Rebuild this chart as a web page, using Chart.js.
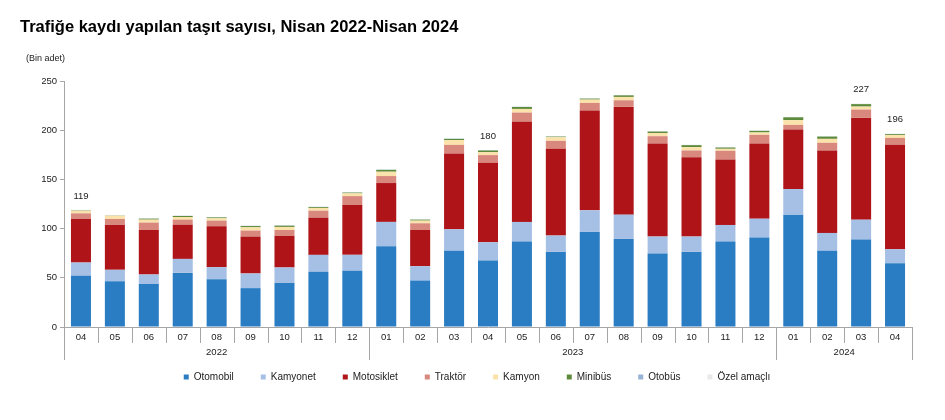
<!DOCTYPE html>
<html>
<head>
<meta charset="utf-8">
<script src="https://cdn.jsdelivr.net/npm/chart.js@4/dist/chart.umd.min.js"></script>
<style>
    body { margin: 0; background: #fff; }
    .wrap { position: relative; width: 945px; height: 420px; }
    .title { position: absolute; left: 20px; top: 17px; font: bold 16.5px "Liberation Sans", Arial, sans-serif; color: #000; }
    .unit { position: absolute; left: 26px; top: 53px; font: 9px "Liberation Sans", Arial, sans-serif; color: #222; }
    canvas { position: absolute; left: 0; top: 0; }
</style>
</head>
<body>
<div class="wrap">
    <canvas id="taşıtChart" width="945" height="420"></canvas>
    <div class="title">Trafiğe kaydı yapılan taşıt sayısı, Nisan 2022-Nisan 2024</div>
    <div class="unit">(Bin adet)</div>
</div>
<script>
const months = ['04', '05', '06', '07', '08', '09', '10', '11', '12',
    '01', '02', '03', '04', '05', '06', '07', '08', '09', '10', '11', '12',
    '01', '02', '03', '04'];
const years = ['2022', '2023', '2024'];
const yearStarts = [0, 9, 21, 25];
const yTicks = [0, 50, 100, 150, 200, 250];

const otomobil = [52.0, 46.6, 43.6, 55.0, 48.6, 39.5, 44.6, 56.1, 57.1, 82.1, 47.3, 77.4, 67.5, 86.8, 76.3, 96.6, 89.5, 74.6, 76.3, 86.8, 90.9, 114.2, 77.4, 88.8, 64.9];
const kamyonet = [13.5, 11.5, 9.8, 14.2, 12.2, 14.9, 15.9, 17.2, 16.2, 24.7, 14.5, 21.9, 18.6, 20.0, 16.6, 22.0, 24.7, 17.3, 15.6, 16.9, 19.2, 26.0, 18.2, 20.3, 14.1];
const motosiklet = [44.6, 45.9, 45.2, 34.8, 41.6, 37.5, 32.1, 37.8, 51.0, 39.5, 36.8, 77.1, 80.8, 101.7, 88.2, 101.4, 109.5, 94.6, 80.7, 66.6, 76.4, 60.5, 83.8, 103.4, 106.2];
const traktor = [5.4, 5.8, 7.5, 5.1, 5.7, 6.1, 6.0, 7.1, 8.7, 7.1, 6.8, 8.7, 7.8, 9.4, 8.1, 7.7, 6.7, 7.4, 6.8, 8.8, 8.8, 4.7, 7.8, 8.5, 7.0];
const kamyon = [2.7, 3.4, 3.0, 2.7, 2.4, 3.3, 3.1, 2.8, 2.8, 4.4, 2.7, 4.8, 3.0, 3.7, 3.7, 3.4, 3.4, 3.1, 3.4, 2.0, 2.4, 4.8, 4.0, 3.0, 2.8];
const minibus = [0.4, 0.2, 1.0, 1.0, 0.9, 1.3, 1.3, 0.9, 0.8, 1.9, 1.0, 1.3, 1.7, 2.0, 0.6, 1.0, 1.6, 1.6, 2.0, 1.3, 1.6, 2.9, 2.3, 2.5, 1.0];
const otobus = [0.2, 0.2, 0.2, 0.2, 0.2, 0.2, 0.2, 0.2, 0.2, 0.2, 0.2, 0.2, 0.2, 0.2, 0.2, 0.2, 0.2, 0.2, 0.2, 0.2, 0.2, 0.2, 0.2, 0.2, 0.2];
const ozelAmacli = [0.2, 0.2, 0.2, 0.2, 0.2, 0.2, 0.2, 0.2, 0.2, 0.2, 0.2, 0.2, 0.2, 0.2, 0.2, 0.2, 0.2, 0.2, 0.2, 0.2, 0.2, 0.2, 0.2, 0.2, 0.2];
// toplam etiketleri (sadece bazı aylarda)
const totalLabels = ['119', '', '', '', '', '', '', '', '', '', '', '', '180', '', '', '', '', '', '', '', '', '', '', '227', '196'];

const font = "'Liberation Sans', Arial, sans-serif";

const axisExtras = {
    id: 'axisExtras',
    afterDraw(chart) {
        const ctx = chart.ctx;
        const x = chart.scales.x;
        const bottom = chart.chartArea.bottom;
        const half = (x.getPixelForValue(1) - x.getPixelForValue(0)) / 2;
        const edge = i => i < months.length ? x.getPixelForValue(i) - half : x.getPixelForValue(months.length - 1) + half;

        ctx.save();
        ctx.strokeStyle = '#a6a6a6';
        ctx.lineWidth = 1;
        for (let i = 0; i <= months.length; i++) {
            const px = Math.round(edge(i)) + 0.5;
            const len = yearStarts.includes(i) ? 33 : 16;
            ctx.beginPath();
            ctx.moveTo(px, bottom);
            ctx.lineTo(px, bottom + len);
            ctx.stroke();
        }
        ctx.fillStyle = '#222';
        ctx.font = "9.5px " + font;
        ctx.textAlign = 'center';
        ctx.textBaseline = 'middle';
        years.forEach((y, k) => {
            const mid = (edge(yearStarts[k]) + edge(yearStarts[k + 1])) / 2;
            ctx.fillText(y, mid, bottom + 25);
        });

        const top = chart.getDatasetMeta(chart.data.datasets.length - 1);
        totalLabels.forEach((t, i) => {
            if (!t) return;
            const bar = top.data[i];
            ctx.fillText(t, bar.x, bar.y - 14);
        });
        ctx.restore();
    }
};

function ds(label, data, color) {
    return {
        label: label,
        data: data,
        backgroundColor: color,
        borderWidth: 0,
        barPercentage: 0.59,
        categoryPercentage: 1
    };
}

new Chart(document.getElementById('taşıtChart'), {
    type: 'bar',
    data: {
        labels: months,
        datasets: [
            ds('Otomobil', otomobil, '#2a7dc3'),
            ds('Kamyonet', kamyonet, '#a6bfe4'),
            ds('Motosiklet', motosiklet, '#ae1418'),
            ds('Traktör', traktor, '#d9887d'),
            ds('Kamyon', kamyon, '#fbe2aa'),
            ds('Minibüs', minibus, '#5e8b3b'),
            ds('Otobüs', otobus, '#96b3d6'),
            ds('Özel amaçlı', ozelAmacli, '#e9e9e9')
        ]
    },
    options: {
        responsive: false,
        animation: false,
        layout: {
            padding: { top: 81, left: 42, right: 33, bottom: 28 }
        },
        plugins: {
            title: { display: false },
            tooltip: { enabled: false },
            legend: {
                position: 'bottom',
                labels: {
                    boxWidth: 5,
                    boxHeight: 5,
                    padding: 27,
                    color: '#222',
                    font: { family: font, size: 10 }
                }
            }
        },
        scales: {
            x: {
                stacked: true,
                afterFit: scale => { scale.height = 18; },
                grid: { display: false, drawTicks: false },
                border: { display: true, color: '#a6a6a6' },
                ticks: {
                    padding: 5,
                    maxRotation: 0,
                    autoSkip: false,
                    color: '#222',
                    font: { family: font, size: 9.5 }
                }
            },
            y: {
                stacked: true,
                min: 0,
                max: 250,
                afterFit: scale => { scale.width = 22; },
                afterBuildTicks: scale => { scale.ticks = yTicks.map(v => ({ value: v })); },
                grid: { drawOnChartArea: false, drawTicks: true, tickLength: 4, color: '#a6a6a6' },
                border: { display: true, color: '#a6a6a6' },
                ticks: {
                    padding: 3,
                    color: '#222',
                    font: { family: font, size: 9.5 }
                }
            }
        }
    },
    plugins: [axisExtras]
});
</script>
</body>
</html>
